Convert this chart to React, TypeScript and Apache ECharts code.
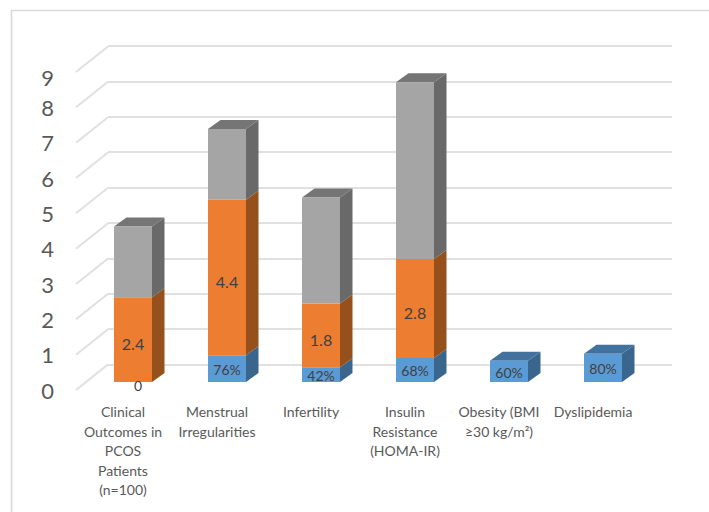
import React, { useEffect, useRef } from "react";
import * as echarts from "echarts";

const categories = [
  "Clinical\nOutcomes in\nPCOS\nPatients\n(n=100)",
  "Menstrual\nIrregularities",
  "Infertility",
  "Insulin\nResistance\n(HOMA-IR)",
  "Obesity (BMI\n≥30 kg/m²)",
  "Dyslipidemia",
];
const blueValues = [0, 0.76, 0.42, 0.68, 0.6, 0.8];
const orangeValues = [2.4, 4.4, 1.8, 2.8, null, null];
const grayValues = [2, 2, 3, 5, null, null];
const yTicks = [0, 1, 2, 3, 4, 5, 6, 7, 8, 9];

const FRONT = ["#5B9BD5", "#ED7D31", "#A5A5A5"];
const SIDE = ["#3A668E", "#95501C", "#696969"];
const TOP = ["#41719C", "#A65A22", "#757575"];
const TEXT = "#595959";
const GRID_LINE = "#E0E0E0";
const FONT = "Lato, 'Open Sans', sans-serif";
const BAR_W = 38;
const DX = 12.5;
const DY = 9;

function segments() {
  const rows: number[][] = [];
  const stacks = [blueValues, orangeValues, grayValues];
  categories.forEach((_, i) => {
    let base = 0;
    let last = -1;
    stacks.forEach((s, k) => {
      if (s[i]) last = k;
    });
    stacks.forEach((s, k) => {
      const v = s[i];
      if (!v) return;
      rows.push([i, base, base + v, k, k === last ? 1 : 0]);
      base += v;
    });
  });
  return rows;
}

export default function App() {
  const ref = useRef<HTMLDivElement>(null);
  useEffect(() => {
    const chart = echarts.init(ref.current!, undefined, { renderer: "svg" });
    chart.setOption({
      animation: false,
      backgroundColor: "#fff",
      textStyle: { fontFamily: FONT },
      graphic: [
        {
          type: "polyline",
          silent: true,
          shape: { points: [[11.5, 512], [11.5, 10.5], [709, 10.5]] },
          style: { stroke: "#D9D9D9", lineWidth: 1.6, fill: "none" },
        },
      ],
      grid: [
        { left: 108, width: 564, top: 46, height: 318.5 },
        { left: 86, width: 564, top: 64, height: 318 },
        { left: 76, width: 564, top: 72, height: 318 },
      ],
      xAxis: [
        { gridIndex: 0, type: "value", show: false, min: 0, max: 1 },
        { gridIndex: 1, type: "category", show: false, data: categories },
        {
          gridIndex: 2,
          type: "category",
          data: categories,
          axisLine: { show: false },
          axisTick: { show: false },
          axisLabel: {
            interval: 0,
            margin: 12,
            color: TEXT,
            fontSize: 14,
            lineHeight: 19.5,
            fontFamily: FONT,
          },
        },
      ],
      yAxis: [
        {
          gridIndex: 0,
          type: "value",
          min: 0,
          max: 9,
          interval: 1,
          axisLabel: { show: false },
          axisLine: { show: false },
          axisTick: { show: false },
          splitLine: { show: true, lineStyle: { color: GRID_LINE, width: 2 } },
        },
        { gridIndex: 1, type: "value", show: false, min: 0, max: 9, interval: 1 },
        {
          gridIndex: 2,
          type: "value",
          min: 0,
          max: 9,
          interval: 1,
          axisLine: { show: false },
          axisTick: { show: false },
          splitLine: { show: false },
          axisLabel: {
            margin: 22,
            color: TEXT,
            fontSize: 22,
            fontFamily: FONT,
            formatter: (v: number) => (v === 9 ? `{low|${v}}` : `${v}`),
            rich: { low: { fontSize: 22, color: TEXT, fontFamily: FONT, padding: [11, 0, 0, 0] } },
          },
        },
      ],
      series: [
        {
          type: "custom",
          name: "floor-wall",
          xAxisIndex: 2,
          yAxisIndex: 2,
          silent: true,
          z: 1,
          data: yTicks.map((v) => [v]),
          encode: { y: 0 },
          renderItem: (params: any, api: any) => {
            const y = api.coord([0, api.value(0)])[1];
            const x = params.coordSys.x;
            return {
              type: "line",
              shape: { x1: x, y1: y, x2: x + 32, y2: y - 25.5 },
              style: { stroke: GRID_LINE, lineWidth: 2 },
            };
          },
        },
        {
          type: "bar",
          name: "Blue",
          xAxisIndex: 1,
          yAxisIndex: 1,
          stack: "s",
          barWidth: BAR_W,
          z: 3,
          itemStyle: { color: FRONT[0] },
          data: blueValues.map((v) =>
            v === 0 ? { value: v, label: { offset: [5, 3] } } : v
          ),
          label: {
            show: true,
            position: "inside",
            offset: [0, 1],
            color: "#404040",
            fontSize: 14,
            fontFamily: FONT,
            formatter: (p: any) => (p.value ? `${Math.round(p.value * 100)}%` : "0"),
          },
        },
        {
          type: "bar",
          name: "Orange",
          xAxisIndex: 1,
          yAxisIndex: 1,
          stack: "s",
          barWidth: BAR_W,
          z: 3,
          itemStyle: { color: FRONT[1] },
          data: orangeValues,
          label: {
            show: true,
            position: "inside",
            offset: [0, 4],
            color: "#404040",
            fontSize: 16,
            fontFamily: FONT,
          },
        },
        {
          type: "bar",
          name: "Gray",
          xAxisIndex: 1,
          yAxisIndex: 1,
          stack: "s",
          barWidth: BAR_W,
          z: 3,
          itemStyle: { color: FRONT[2] },
          data: grayValues,
        },
        {
          type: "custom",
          name: "depth",
          xAxisIndex: 1,
          yAxisIndex: 1,
          silent: true,
          z: 2,
          data: segments(),
          encode: { x: 0, y: [1, 2] },
          renderItem: (_: any, api: any) => {
            const [cx, yBase] = api.coord([api.value(0), api.value(1)]);
            const yEnd = api.coord([api.value(0), api.value(2)])[1];
            const k = api.value(3);
            const l = cx - BAR_W / 2;
            const r = cx + BAR_W / 2;
            const children: any[] = [
              {
                type: "polygon",
                shape: {
                  points: [
                    [r, yEnd],
                    [r + DX, yEnd - DY],
                    [r + DX, yBase - DY],
                    [r, yBase],
                  ],
                },
                style: { fill: SIDE[k] },
              },
            ];
            if (api.value(4)) {
              children.push({
                type: "polygon",
                shape: {
                  points: [
                    [l, yEnd],
                    [l + DX, yEnd - DY],
                    [r + DX, yEnd - DY],
                    [r, yEnd],
                  ],
                },
                style: { fill: TOP[k] },
              });
            }
            return { type: "group", children };
          },
        },
      ],
    });
    return () => chart.dispose();
  }, []);
  return (
    <div
      ref={ref}
      style={{ position: "absolute", left: 0, top: 0, width: 709, height: 512 }}
    />
  );
}
